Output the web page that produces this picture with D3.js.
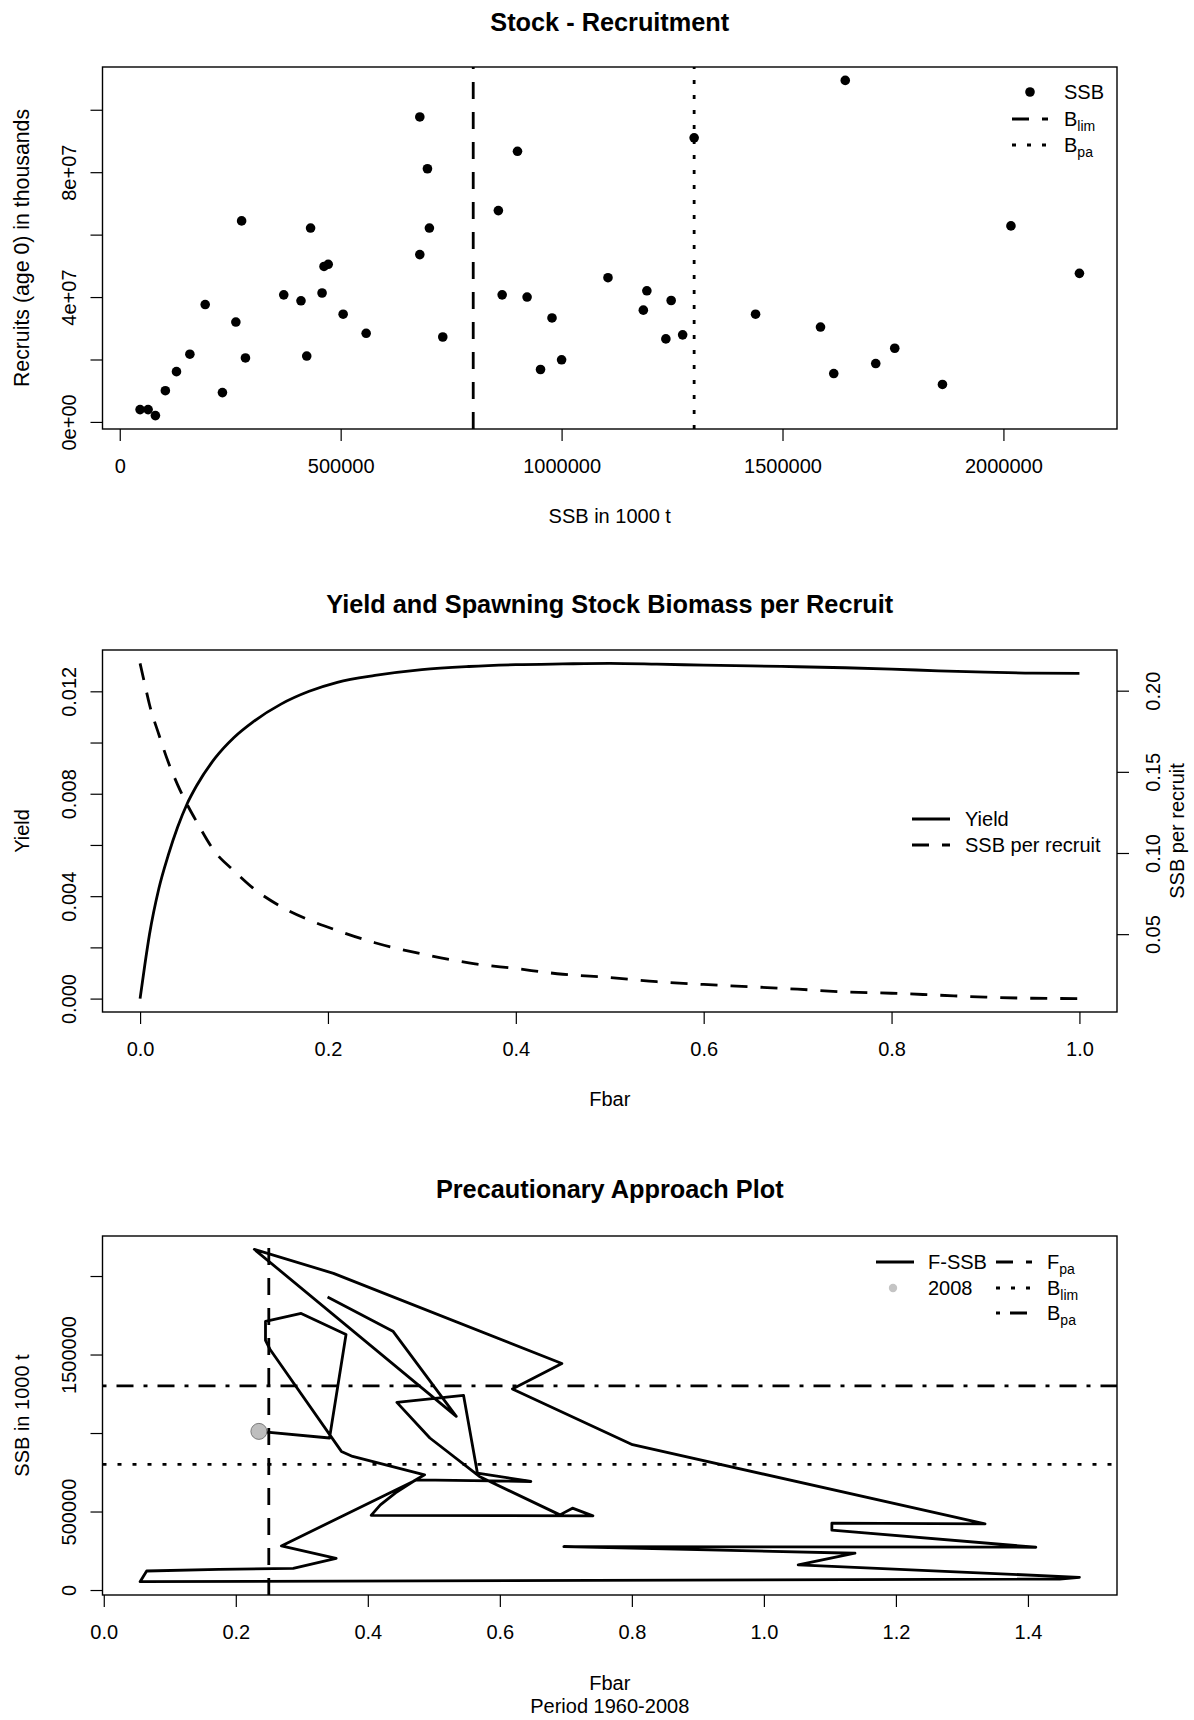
<!DOCTYPE html>
<meta charset='utf-8'>
<head>
<style>
  body { margin: 0; background: #fff; }
  svg { display: block; background: #fff; }
  text { font-family: 'Liberation Sans', Arial, sans-serif; fill: #000; }
  .title { font-size: 25.3px; font-weight: bold; }
  .lab { font-size: 20px; }
  .axis text { font-size: 20px; font-family: 'Liberation Sans', Arial, sans-serif; }
  .axis line { stroke: #000; stroke-width: 1.2; }
</style>
</head>
<body>
<script src='https://d3js.org/d3.v7.min.js'></script>
<script>

// --- stock / recruitment pairs (SSB, recruits age 0)
var srSSB = [46000, 64200, 80700, 103200, 128400, 158700, 193400, 232400, 262800, 275800, 284500,
  371200, 410200, 423200, 431900, 457900, 462300, 471800, 505600, 557700, 679100, 679100, 696400,
  700800, 731100, 856900, 865500, 900200, 921900, 952300, 978300, 1000000, 1105000, 1185000,
  1193000, 1236000, 1248000, 1274000, 1300000, 1439000, 1586000, 1616000, 1642000, 1711000,
  1754000, 1862000, 2017000, 2172000];
var srRec = [3.95e6, 3.95e6, 2.03e6, 1.0e7, 1.61e7, 2.17e7, 3.76e7, 9.4e6, 3.2e7, 6.44e7, 2.05e7,
  4.07e7, 3.88e7, 2.11e7, 6.21e7, 4.13e7, 4.98e7, 5.05e7, 3.45e7, 2.84e7, 9.77e7, 5.36e7, 8.11e7,
  6.21e7, 2.72e7, 6.77e7, 4.07e7, 8.67e7, 4.0e7, 1.68e7, 3.33e7, 1.99e7, 4.62e7, 3.58e7,
  4.2e7, 2.66e7, 3.89e7, 2.79e7, 9.1e7, 3.45e7, 3.04e7, 1.55e7, 1.094e8, 1.87e7,
  2.36e7, 1.2e7, 6.28e7, 4.76e7];

// --- reference points
var Blim = 800000, Bpa = 1300000, Fpa = 0.25;

// --- yield & SSB per recruit
var fGrid = [0, 0.005, 0.01, 0.02, 0.03, 0.04, 0.05, 0.06, 0.08, 0.10, 0.12, 0.15, 0.18, 0.21, 0.25,
  0.30, 0.35, 0.40, 0.45, 0.50, 0.55, 0.60, 0.65, 0.70, 0.75, 0.80, 0.85, 0.90, 0.95, 1.00];
var yieldPR = [0, 0.0013, 0.0025, 0.0043, 0.0056, 0.0067, 0.0076, 0.0083, 0.0094, 0.0102, 0.0108,
  0.0115, 0.0120, 0.01235, 0.01262, 0.01285, 0.01297, 0.01304, 0.01307, 0.01309, 0.01306, 0.01302,
  0.01299, 0.01296, 0.01292, 0.01287, 0.01280, 0.01275, 0.01271, 0.01270];
var ssbPR = [0.2168, 0.2040, 0.1915, 0.1730, 0.1560, 0.1420, 0.1300, 0.1195, 0.1005, 0.0890, 0.0785,
  0.0670, 0.0587, 0.0522, 0.0447, 0.0378, 0.0323, 0.0288, 0.0253, 0.0233, 0.0207, 0.0190,
  0.0176, 0.0161, 0.0144, 0.0136, 0.0124, 0.0112, 0.0105, 0.0103];

// --- F / SSB trajectory 1960-2008 (last point = 2008)
var fbarHist = [0.339, 0.438, 0.534, 0.228, 0.348, 0.694, 0.619, 0.801, 1.335, 1.103, 1.103, 1.412,
  0.697, 1.138, 1.052, 1.478, 1.448, 0.055, 0.065, 0.174, 0.287, 0.352, 0.269, 0.474, 0.647, 0.566,
  0.545, 0.444, 0.494, 0.569, 0.691, 0.710, 0.741, 0.405, 0.419, 0.442, 0.471, 0.486, 0.377, 0.360,
  0.252, 0.245, 0.245, 0.299, 0.367, 0.342, 0.235];
var ssbHist = [1865800, 1648700, 1106200, 2170200, 2017000, 1442600, 1281000, 925500, 421300, 425700,
  381000, 272600, 276400, 234300, 159600, 81100, 70200, 53000, 121300, 130900, 138500, 202300,
  280900, 702000, 691300, 744900, 1240200, 1195500, 968300, 723200, 478700, 521500, 472300, 475500,
  542600, 619200, 697700, 734000, 850800, 882800, 1531900, 1589400, 1710600, 1761700, 1627700,
  968300, 1010400];

// --- tick values / labels (R drops labels that would overlap)
var ssbTicks = [0, 500000, 1000000, 1500000, 2000000];
var ssbTickLab = ['0', '500000', '1000000', '1500000', '2000000'];
var recTicks = [0, 2e7, 4e7, 6e7, 8e7, 1e8];
var recTickLab = ['0e+00', '', '4e+07', '', '8e+07', ''];
var fTicks2 = [0, 0.2, 0.4, 0.6, 0.8, 1.0];
var fTickLab2 = ['0.0', '0.2', '0.4', '0.6', '0.8', '1.0'];
var yldTicks = [0, 0.002, 0.004, 0.006, 0.008, 0.010, 0.012];
var yldTickLab = ['0.000', '', '0.004', '', '0.008', '', '0.012'];
var sprTicks = [0.05, 0.10, 0.15, 0.20];
var sprTickLab = ['0.05', '0.10', '0.15', '0.20'];
var fTicks3 = [0, 0.2, 0.4, 0.6, 0.8, 1.0, 1.2, 1.4];
var fTickLab3 = ['0.0', '0.2', '0.4', '0.6', '0.8', '1.0', '1.2', '1.4'];
var ssbTicks3 = [0, 500000, 1000000, 1500000, 2000000];
var ssbTickLab3 = ['0', '500000', '', '1500000', ''];

var W = 1194, H = 1720;
var left = 102.5, right = 1117, midX = (left + right) / 2;
var panels = [{top: 67, bottom: 429}, {top: 650, bottom: 1012}, {top: 1236, bottom: 1595}];

var DASH = '17,13', DOT = '4,11', DASHDOT = '4,10,17,10', LW = 2.8;

var svg = d3.select('body').append('svg').attr('width', W).attr('height', H);

// R style axis range: data range + 4% each side
function rPad(ext) { var d = (ext[1] - ext[0]) * 0.04; return [ext[0] - d, ext[1] + d]; }

function box(p) {
  svg.append('rect').attr('x', left).attr('y', p.top)
      .attr('width', right - left).attr('height', p.bottom - p.top)
      .attr('fill', 'none').attr('stroke', '#000').attr('stroke-width', 1.4);
}

function title(s, y) {
  svg.append('text').attr('class', 'title').attr('x', midX).attr('y', y)
      .attr('text-anchor', 'middle').text(s);
}

function htext(x, y, s, anchor) {
  return svg.append('text').attr('class', 'lab').attr('x', x).attr('y', y)
      .attr('text-anchor', anchor || 'middle').text(s);
}

function vtext(x, y, s, size) {
  svg.append('text').attr('class', 'lab').attr('text-anchor', 'middle')
      .style('font-size', size ? size + 'px' : null)
      .attr('transform', 'translate(' + x + ',' + y + ') rotate(-90)').text(s);
}

function bottomAxis(x, p, ticks, labels) {
  svg.append('g').attr('class', 'axis').attr('transform', 'translate(0,' + p.bottom + ')')
      .call(d3.axisBottom(x).tickValues(ticks).tickSize(12).tickSizeOuter(0)
        .tickFormat((d, i) => labels[i]))
      .call(g => g.select('.domain').remove())
    .selectAll('text').attr('y', 44).attr('dy', 0);
}

function leftAxis(y, ticks, labels) {
  svg.append('g').attr('class', 'axis').attr('transform', 'translate(' + left + ',0)')
      .call(d3.axisLeft(y).tickValues(ticks).tickSize(12).tickSizeOuter(0)
        .tickFormat((d, i) => labels[i]))
      .call(g => g.select('.domain').remove())
    .selectAll('text').attr('x', null).attr('dy', null).attr('text-anchor', 'middle')
      .attr('transform', 'translate(-26.5,0) rotate(-90)');
}

function rightAxis(y, ticks, labels) {
  svg.append('g').attr('class', 'axis').attr('transform', 'translate(' + right + ',0)')
      .call(d3.axisRight(y).tickValues(ticks).tickSize(12).tickSizeOuter(0)
        .tickFormat((d, i) => labels[i]))
      .call(g => g.select('.domain').remove())
    .selectAll('text').attr('x', null).attr('dy', null).attr('text-anchor', 'middle')
      .attr('transform', 'translate(43,0) rotate(-90)');
}

function seg(x1, y1, x2, y2, dash, w) {
  svg.append('line').attr('x1', x1).attr('y1', y1).attr('x2', x2).attr('y2', y2)
      .attr('stroke', '#000').attr('stroke-width', w || LW)
      .attr('stroke-dasharray', dash || null);
}

// text with a subscript, e.g. B[lim]
function subText(x, y, main, sub) {
  var t = htext(x, y, main, 'start');
  t.append('tspan').attr('dy', 5).style('font-size', '14px').text(sub);
}

// =============== Stock - Recruitment ===============
var p1 = panels[0];
var x1 = d3.scaleLinear().domain(rPad(d3.extent(srSSB))).range([left, right]);
var y1 = d3.scaleLinear().domain(rPad(d3.extent(srRec))).range([p1.bottom, p1.top]);

title('Stock - Recruitment', 31);

svg.append('g').selectAll('circle')
    .data(srSSB)
  .enter().append('circle')
    .attr('cx', d => x1(d))
    .attr('cy', (d, i) => y1(srRec[i]))
    .attr('r', 4.8)
    .attr('fill', '#000');

seg(x1(Blim), p1.bottom, x1(Blim), p1.top, DASH);
seg(x1(Bpa), p1.bottom, x1(Bpa), p1.top, DOT);

box(p1);
bottomAxis(x1, p1, ssbTicks, ssbTickLab);
leftAxis(y1, recTicks, recTickLab);
htext(midX, 523, 'SSB in 1000 t');
vtext(29, (p1.top + p1.bottom) / 2, 'Recruits (age 0) in thousands', 21.3);

// legend
svg.append('circle').attr('cx', 1030).attr('cy', 92).attr('r', 4.8).attr('fill', '#000');
htext(1064, 99, 'SSB', 'start');
seg(1012, 119, 1048, 119, DASH);
subText(1064, 126, 'B', 'lim');
seg(1012, 145, 1048, 145, DOT);
subText(1064, 152, 'B', 'pa');

// =============== Yield and SSB per recruit ===============
var p2 = panels[1];
var x2 = d3.scaleLinear().domain(rPad(d3.extent(fGrid))).range([left, right]);
var y2 = d3.scaleLinear().domain(rPad(d3.extent(yieldPR))).range([p2.bottom, p2.top]);
var y2r = d3.scaleLinear().domain(rPad(d3.extent(ssbPR))).range([p2.bottom, p2.top]);

title('Yield and Spawning Stock Biomass per Recruit', 613);

var lineY = d3.line().x((d, i) => x2(fGrid[i])).y(d => y2(d)).curve(d3.curveMonotoneX);
var lineS = d3.line().x((d, i) => x2(fGrid[i])).y(d => y2r(d)).curve(d3.curveMonotoneX);

svg.append('path').datum(yieldPR).attr('d', lineY)
    .attr('fill', 'none').attr('stroke', '#000').attr('stroke-width', LW);
svg.append('path').datum(ssbPR).attr('d', lineS)
    .attr('fill', 'none').attr('stroke', '#000').attr('stroke-width', LW)
    .attr('stroke-dasharray', DASH);

box(p2);
bottomAxis(x2, p2, fTicks2, fTickLab2);
leftAxis(y2, yldTicks, yldTickLab);
rightAxis(y2r, sprTicks, sprTickLab);
htext(midX, 1106, 'Fbar');
vtext(29, (p2.top + p2.bottom) / 2, 'Yield');
vtext(1184, (p2.top + p2.bottom) / 2, 'SSB per recruit');

seg(912, 819, 950, 819);
htext(965, 826, 'Yield', 'start');
seg(912, 845, 950, 845, DASH);
htext(965, 852, 'SSB per recruit', 'start');

// =============== Precautionary approach ===============
var p3 = panels[2];
var x3 = d3.scaleLinear().domain(rPad(d3.extent(fbarHist))).range([left, right]);
var y3 = d3.scaleLinear().domain(rPad(d3.extent(ssbHist))).range([p3.bottom, p3.top]);

title('Precautionary Approach Plot', 1198);

var pathFS = d3.line().x((d, i) => x3(fbarHist[i])).y(d => y3(d));
svg.append('path').datum(ssbHist).attr('d', pathFS)
    .attr('fill', 'none').attr('stroke', '#000').attr('stroke-width', LW)
    .attr('stroke-linejoin', 'round');

seg(x3(Fpa), p3.bottom, x3(Fpa), p3.top, DASH);
seg(left, y3(Blim), right, y3(Blim), DOT);
seg(left, y3(Bpa), right, y3(Bpa), DASHDOT);

var last = ssbHist.length - 1;
svg.append('circle').attr('cx', x3(fbarHist[last])).attr('cy', y3(ssbHist[last]))
    .attr('r', 8).attr('fill', '#bebebe').attr('stroke', '#7a7a7a').attr('stroke-width', 1);

box(p3);
bottomAxis(x3, p3, fTicks3, fTickLab3);
leftAxis(y3, ssbTicks3, ssbTickLab3);
htext(midX, 1690, 'Fbar');
htext(midX, 1713, 'Period 1960-2008');
vtext(29, (p3.top + p3.bottom) / 2, 'SSB in 1000 t');

// legend, two columns
seg(876, 1262, 914, 1262);
htext(928, 1269, 'F-SSB', 'start');
svg.append('circle').attr('cx', 893).attr('cy', 1288).attr('r', 4.2).attr('fill', '#c4c4c4');
htext(928, 1295, '2008', 'start');
seg(996, 1262, 1032, 1262, DASH);
subText(1047, 1269, 'F', 'pa');
seg(996, 1288, 1032, 1288, DOT);
subText(1047, 1295, 'B', 'lim');
seg(996, 1313, 1032, 1313, DASHDOT);
subText(1047, 1320, 'B', 'pa');

</script>
</body>
